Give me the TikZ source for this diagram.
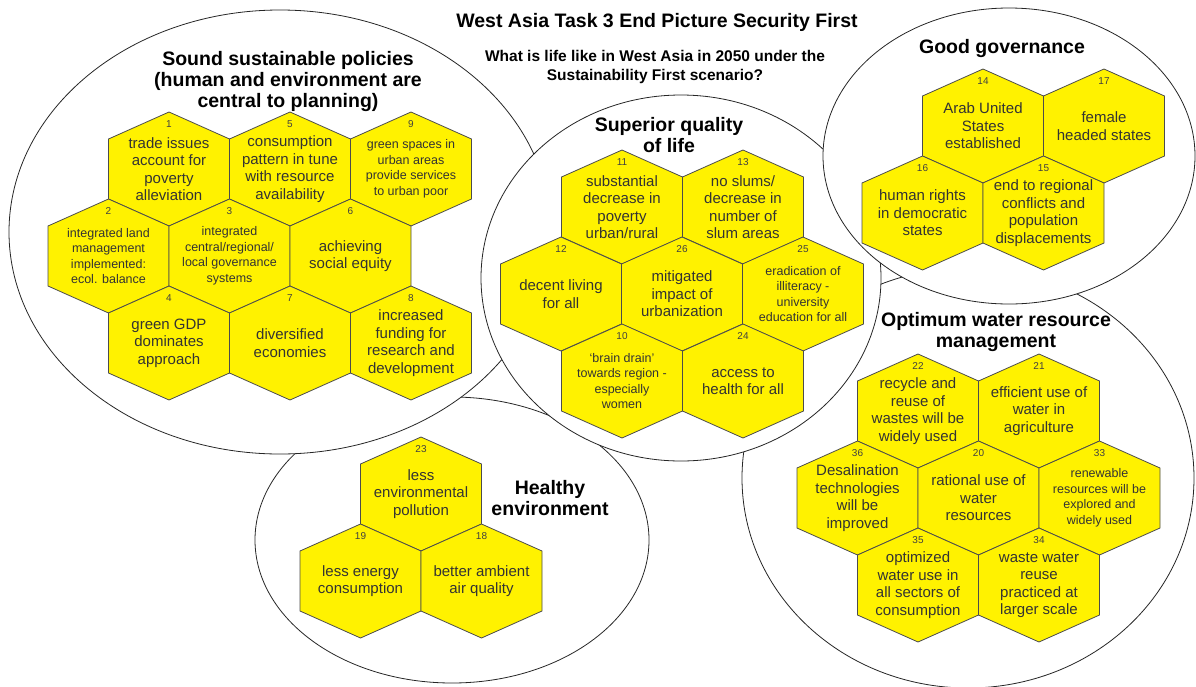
\documentclass[tikz,border=0pt]{standalone}
\usepackage{fontspec}
\setmainfont{Liberation Sans}
\usepackage{tikz}
\tikzset{
  zone/.style={draw=black!85, line width=0.8pt, fill=white},
  hexline/.style={draw=black!70, line width=0.8pt, fill=yellow},
  hextext/.style={align=center, inner sep=0pt, text=black!80, font=\fontsize{15}{17.5}\selectfont},
  hexsmall/.style={hextext, font=\fontsize{12.5}{15.5}\selectfont},
  hexnum/.style={inner sep=0pt, text=black!75, font=\fontsize{10}{12}\selectfont},
  zonetitle/.style={align=center, inner sep=0pt, font=\bfseries\fontsize{19.5}{21}\selectfont},
}
\newcommand{\hx}[5][hextext]{%
  \draw[hexline] (#3,#4) +(0,-57) -- +(60.5,-30) -- +(60.5,30) -- +(0,57) -- +(-60.5,30) -- +(-60.5,-30) -- cycle;
  \node[#1] (H#2) at (#3,#4) {#5};
  \node[hexnum] (N#2) at (#3,#4-45) {#2};
}

\begin{document}
\begin{tikzpicture}[x=1pt, y=-1pt]
  \useasboundingbox (0,0) rectangle (1196,686);
  \clip (0,0) rectangle (1196,686);

  \draw[zone] (452,540) ellipse [x radius=197, y radius=143];
  \draw[zone] (968,478) ellipse [x radius=226, y radius=210];
  \draw[zone] (280,232) ellipse [x radius=271, y radius=222];
  \draw[zone] (681,278) ellipse [x radius=200, y radius=183];
  \draw[zone] (1009,156) ellipse [x radius=186, y radius=148];

  \node[zonetitle] (T) at (657,22) {West Asia Task 3 End Picture Security First};
  \node[align=center, inner sep=0pt, font=\bfseries\fontsize{15.5}{19}\selectfont] (Q) at (655,67)
    {What is life like in West Asia in 2050 under the\\Sustainability First scenario?};

  \node[zonetitle] (Z1) at (288,81) {Sound sustainable policies\\(human and environment are\\central to planning)};
  \hx{1}{169}{169}{trade issues\\account for\\poverty\\alleviation}
  \hx{5}{290}{169}{consumption\\pattern in tune\\with resource\\availability}
  \hx[hexsmall]{9}{411}{169}{green spaces in\\urban areas\\provide services\\to urban poor}
  \hx[hexsmall]{2}{108.5}{256}{integrated land\\management\\implemented:\\ecol. balance}
  \hx[hexsmall]{3}{229.5}{256}{integrated\\central/regional/\\local governance\\systems}
  \hx{6}{350.5}{256}{achieving\\social equity}
  \hx{4}{169}{343}{green GDP\\dominates\\approach}
  \hx{7}{290}{343}{diversified\\economies}
  \hx{8}{411}{343}{increased\\funding for\\research and\\development}

  \node[zonetitle] (Z2) at (669,135) {Superior quality\\of life};
  \hx{11}{622}{207}{substantial\\decrease in\\poverty\\urban/rural}
  \hx{13}{743}{207}{no slums/\\decrease in\\number of\\slum areas}
  \hx{12}{561}{294}{decent living\\for all}
  \hx{26}{682}{294}{mitigated\\impact of\\urbanization}
  \hx[hexsmall]{25}{803}{294}{eradication of\\illiteracy -\\university\\education for all}
  \hx[hexsmall]{10}{622}{381}{`brain drain'\\towards region -\\especially\\women}
  \hx{24}{743}{381}{access to\\health for all}

  \node[zonetitle] (Z3) at (1002,48) {Good governance};
  \hx{14}{983}{126}{Arab United\\States\\established}
  \hx{17}{1104}{126}{female\\headed states}
  \hx{16}{922.5}{213}{human rights\\in democratic\\states}
  \hx{15}{1043.5}{213}{end to regional\\conflicts and\\population\\displacements}

  \node[zonetitle] (Z4) at (996,332) {Optimum water resource\\management};
  \hx{22}{918}{411}{recycle and\\reuse of\\wastes will be\\widely used}
  \hx{21}{1039}{411}{efficient use of\\water in\\agriculture}
  \hx{36}{857.5}{498}{Desalination\\technologies\\will be\\improved}
  \hx{20}{978.5}{498}{rational use of\\water\\resources}
  \hx[hexsmall]{33}{1099.5}{498}{renewable\\resources will be\\explored and\\widely used}
  \hx{35}{918}{585}{optimized\\water use in\\all sectors of\\consumption}
  \hx{34}{1039}{585}{waste water\\reuse\\practiced at\\larger scale}

  \node[zonetitle] (Z5) at (550,498) {Healthy\\environment};
  \hx{23}{421}{494}{less\\environmental\\pollution}
  \hx{19}{360.5}{581}{less energy\\consumption}
  \hx{18}{481.5}{581}{better ambient\\air quality}
\end{tikzpicture}
\end{document}
